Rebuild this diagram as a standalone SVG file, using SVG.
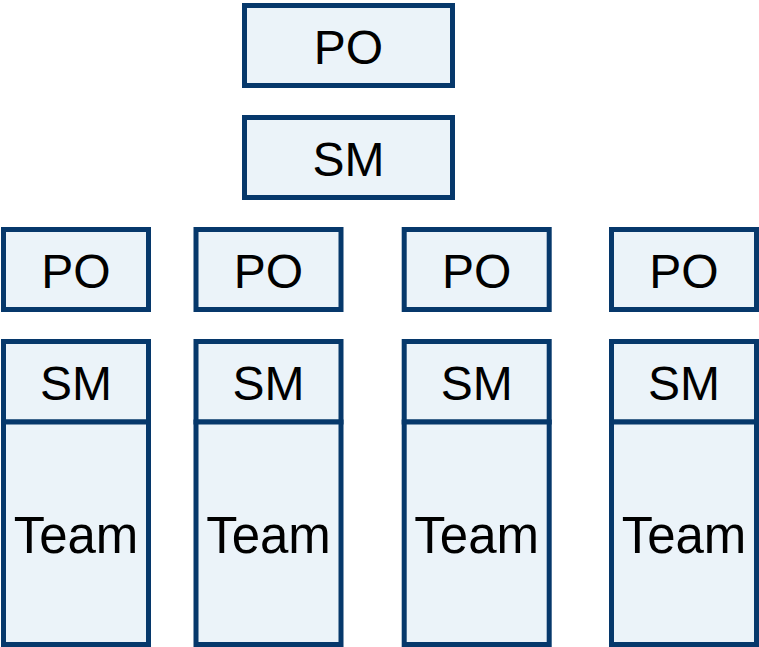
<svg xmlns="http://www.w3.org/2000/svg" width="759" height="647" viewBox="0 0 759 647">
<style>
.box{fill:#EBF3F9;stroke:#06386B;stroke-width:5}
.t{font-family:"Liberation Sans",Arial,sans-serif;font-size:48px;fill:#000;text-anchor:middle}
.tm{font-size:51px}
</style>
<rect width="759" height="647" fill="#fff"/>
<g id="po-top"><rect class="box" x="244.5" y="5.5" width="208" height="80"/><text class="t" x="348.5" y="64">PO</text></g>
<g id="sm-top"><rect class="box" x="244.5" y="117.5" width="208" height="80"/><text class="t" x="348.5" y="176">SM</text></g>

<g id="po-1"><rect class="box" x="3.5" y="229.5" width="145" height="80"/><text class="t" x="76" y="288">PO</text></g>
<g id="sm-1"><rect class="box" x="3.5" y="341.5" width="145" height="80.5"/><text class="t" x="76" y="400">SM</text></g>
<g id="team-1"><rect class="box" x="3.5" y="422" width="145" height="222.5"/><text class="t tm" x="76" y="553">Team</text></g>

<g id="po-2"><rect class="box" x="196" y="229.5" width="145" height="80"/><text class="t" x="268.5" y="288">PO</text></g>
<g id="sm-2"><rect class="box" x="196" y="341.5" width="145" height="80.5"/><text class="t" x="268.5" y="400">SM</text></g>
<g id="team-2"><rect class="box" x="196" y="422" width="145" height="222.5"/><text class="t tm" x="268.5" y="553">Team</text></g>

<g id="po-3"><rect class="box" x="404.2" y="229.5" width="145" height="80"/><text class="t" x="476.7" y="288">PO</text></g>
<g id="sm-3"><rect class="box" x="404.2" y="341.5" width="145" height="80.5"/><text class="t" x="476.7" y="400">SM</text></g>
<g id="team-3"><rect class="box" x="404.2" y="422" width="145" height="222.5"/><text class="t tm" x="476.7" y="553">Team</text></g>

<g id="po-4"><rect class="box" x="611.5" y="229.5" width="145" height="80"/><text class="t" x="684" y="288">PO</text></g>
<g id="sm-4"><rect class="box" x="611.5" y="341.5" width="145" height="80.5"/><text class="t" x="684" y="400">SM</text></g>
<g id="team-4"><rect class="box" x="611.5" y="422" width="145" height="222.5"/><text class="t tm" x="684" y="553">Team</text></g>

<g id="connectors"></g>
</svg>
